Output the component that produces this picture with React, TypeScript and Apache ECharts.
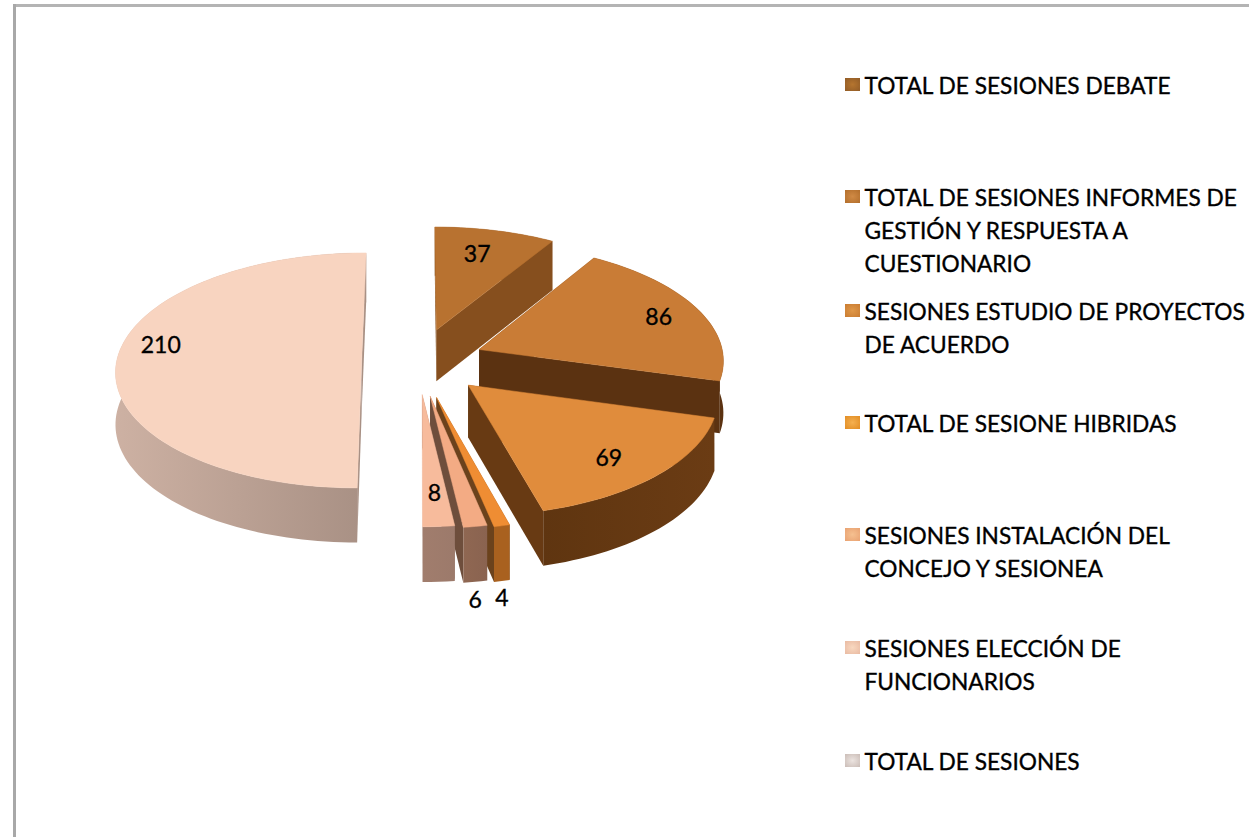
import React, { useEffect, useRef } from "react";
import * as echarts from "echarts";

const categories = [
  "TOTAL DE SESIONES DEBATE",
  "TOTAL DE SESIONES INFORMES DE\nGESTIÓN Y RESPUESTA A\nCUESTIONARIO",
  "SESIONES ESTUDIO DE PROYECTOS\nDE ACUERDO",
  "TOTAL DE SESIONE HIBRIDAS",
  "SESIONES INSTALACIÓN DEL\nCONCEJO Y SESIONEA",
  "SESIONES ELECCIÓN DE\nFUNCIONARIOS",
  "TOTAL DE SESIONES",
];
const values = [37, 86, 69, 4, 6, 8, 210];
const explode = [0.28, 0.27, 0.285, 0.31, 0.295, 0.28, 0.23];
const drawOrder = [0, 1, 6, 3, 4, 5, 2];

const topColors = ["#b87230", "#c97c36", "#e08c3c", "#ef8d33", "#f3ab84", "#f7bb9c", "#f8d4c0"];
const rimLeft = ["#864f1e", "#5b3211", "#5f3510", "#a9611f", "#8f6752", "#a17d6d", "#cdb1a3"];
const rimRight = ["#864f1e", "#5b3211", "#6b3c14", "#a9611f", "#8a6350", "#9c7a6b", "#a89084"];
const radialColors = ["#864f1e", "#5b3211", "#683a13", "#6b421c", "#6e4e3c", "#8a6a5c", "#a89084"];
const iconCenters = ["#b5752f", "#d08a45", "#e09848", "#f5b050", "#f5c090", "#f8d8c0", "#ece4e0"];
const iconEdges = ["#8f5a26", "#b06c2a", "#c87a30", "#e08a20", "#e8a070", "#e8b8a0", "#c8bab4"];
const labelRadius = [0.75, 0.82, 0.78, 1, 1, 0.75, 0.82];
const labelAngle = [-1.5, 0, 2, 0, 0, 0, 0];
const labelDrop = [0, 0, 0, 71, 73, 0, -17];
const legendRows = [85, 197, 311, 423, 535, 648, 761];

const CX = 418, CY = 361, RX = 245, RY = 117.5, DEPTH = 52;
const total = values.reduce((a, b) => a + b, 0);

function project(X: number, Y: number): number[] {
  return [CX + X * RX * (1 + 0.08 * Y), CY + Y * RY * (1 + 0.08 * Y)];
}

function renderSlice(i: number) {
  const before = values.slice(0, i).reduce((a, b) => a + b, 0);
  const a0 = (before / total) * Math.PI * 2;
  const a1 = ((before + values[i]) / total) * Math.PI * 2;
  const mid = (a0 + a1) / 2;
  const ax = explode[i] * Math.sin(mid);
  const ay = -explode[i] * Math.cos(mid);
  const steps = Math.max(4, Math.ceil((a1 - a0) / 0.03));
  const rim: number[][] = [];
  for (let s = 0; s <= steps; s++) {
    const t = a0 + ((a1 - a0) * s) / steps;
    rim.push([ax + Math.sin(t), ay - Math.cos(t)]);
  }
  const apex = [ax, ay];
  const wall = (pts: number[][]) => {
    const up = pts.map((p) => project(p[0], p[1]));
    const down = pts
      .map((p) => {
        const q = project(p[0], p[1]);
        return [q[0], q[1] + DEPTH * (1 + 0.05 * p[1])];
      })
      .reverse();
    return up.concat(down);
  };
  const faces = [
    { pts: rim, mean: rim.reduce((a, p) => a + p[1], 0) / rim.length, curved: true },
    { pts: [apex, rim[0]], mean: (apex[1] + rim[0][1]) / 2, curved: false },
    { pts: [apex, rim[steps]], mean: (apex[1] + rim[steps][1]) / 2, curved: false },
  ].sort((p, q) => p.mean - q.mean);

  const lr = labelRadius[i];
  const la = mid + (labelAngle[i] * Math.PI) / 180;
  const lp = project(ax + lr * Math.sin(la), ay - lr * Math.cos(la));

  const children: any[] = faces.map((f) => ({
    type: "polygon",
    shape: { points: wall(f.pts) },
    style: {
      fill: f.curved
        ? new echarts.graphic.LinearGradient(0, 0, 1, 0, [
            { offset: 0, color: rimLeft[i] },
            { offset: 1, color: rimRight[i] },
          ])
        : radialColors[i],
    },
  }));
  children.push({
    type: "polygon",
    shape: { points: [apex, ...rim].map((p) => project(p[0], p[1])) },
    style: { fill: topColors[i], stroke: topColors[i], lineWidth: 0.5 },
  });
  children.push({
    type: "text",
    x: lp[0],
    y: lp[1] + labelDrop[i],
    style: {
      text: String(values[i]),
      fill: "#000",
      stroke: "#000",
      lineWidth: 0.35,
      font: "23px Lato",
      align: "center",
      verticalAlign: "middle",
    },
  });
  return { type: "group", children };
}

export default function App() {
  const ref = useRef<HTMLDivElement>(null);
  useEffect(() => {
    document.body.style.margin = "0";
    const chart = echarts.init(ref.current!, undefined, { renderer: "svg" });
    const legend: any[] = [];
    categories.forEach((name, i) => {
      legend.push({
        type: "rect",
        shape: { x: 845, y: legendRows[i] - 7, width: 15, height: 13 },
        style: {
          fill: new echarts.graphic.RadialGradient(0.5, 0.5, 0.75, [
            { offset: 0, color: iconCenters[i] },
            { offset: 1, color: iconEdges[i] },
          ]),
        },
      });
      legend.push({
        type: "text",
        x: 864.5,
        y: legendRows[i] - 16.5,
        style: {
          text: name,
          fill: "#000",
          stroke: "#000",
          lineWidth: 0.35,
          font: "22.7px Lato",
          lineHeight: 33,
          verticalAlign: "top",
        },
      });
    });
    chart.setOption({
      animation: false,
      backgroundColor: "#ffffff",
      graphic: [
        {
          type: "line",
          shape: { x1: 14, y1: 5.5, x2: 1249, y2: 5.5 },
          style: { stroke: "#b4b4b4", lineWidth: 3 },
        },
        {
          type: "line",
          shape: { x1: 14.5, y1: 4, x2: 14.5, y2: 837 },
          style: { stroke: "#a8a8a8", lineWidth: 3 },
        },
        ...legend,
      ],
      series: drawOrder.map((i, order) => ({
        type: "custom",
        name: categories[i],
        coordinateSystem: "none",
        z: 2 + order,
        silent: true,
        data: [values[i]],
        renderItem: () => renderSlice(i),
      })),
    });
    return () => chart.dispose();
  }, []);
  return <div ref={ref} style={{ width: 1249, height: 837 }} />;
}
